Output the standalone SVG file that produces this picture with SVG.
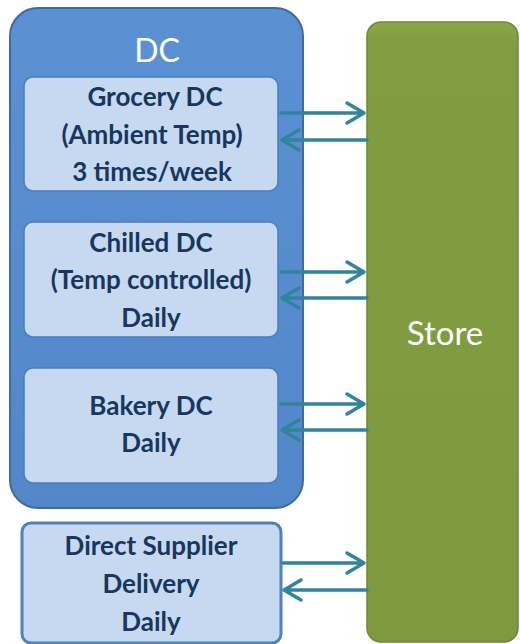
<svg xmlns="http://www.w3.org/2000/svg" width="520" height="644" viewBox="0 0 520 644">
<defs>
<style>
.t{font-family:Lato,"Open Sans","Liberation Sans",sans-serif;font-weight:bold;font-size:26px;fill:#17375E;text-anchor:middle}
.w{font-family:Lato,"Open Sans","Liberation Sans",sans-serif;fill:#FFFFFF;text-anchor:middle}
.inner{fill:#C6D9F1;stroke:#4B7EBF;stroke-width:1.5}
.arr{fill:none;stroke:#31849B;stroke-width:3.5;stroke-linecap:round;stroke-linejoin:round}
</style>
<linearGradient id="gb" x1="0" y1="0" x2="0" y2="1">
<stop offset="0" stop-color="#5B90D2"/><stop offset="1" stop-color="#5287CA"/>
</linearGradient>
<linearGradient id="gg" x1="0" y1="0" x2="0" y2="1">
<stop offset="0" stop-color="#8AA748"/><stop offset="0.03" stop-color="#809D41"/><stop offset="1" stop-color="#7D9A3E"/>
</linearGradient>
</defs>
<g id="dc">
<rect x="10" y="8" width="293" height="500" rx="28" fill="url(#gb)" stroke="#3F6B9E" stroke-width="2"/>
<text class="w" x="157" y="62" font-size="32">DC</text>
</g>
<g id="grocery">
<rect class="inner" x="24" y="77" width="254" height="114" rx="9"/>
<text class="t" x="155" y="106">Grocery DC</text>
<text class="t" x="152" y="144">(Ambient Temp)</text>
<text class="t" x="152" y="181">3 times/week</text>
</g>
<g id="chilled">
<rect class="inner" x="24" y="222" width="254" height="115" rx="9"/>
<text class="t" x="151" y="252">Chilled DC</text>
<text class="t" x="151" y="289">(Temp controlled)</text>
<text class="t" x="151" y="327">Daily</text>
</g>
<g id="bakery">
<rect class="inner" x="24" y="368" width="254" height="115" rx="9"/>
<text class="t" x="151" y="415">Bakery DC</text>
<text class="t" x="151" y="452">Daily</text>
</g>
<g id="direct">
<rect x="22" y="523" width="259" height="120" rx="9" fill="#C6D9F1" stroke="#4F81BD" stroke-width="3"/>
<text class="t" x="151" y="555">Direct Supplier</text>
<text class="t" x="151" y="593">Delivery</text>
<text class="t" x="151" y="631">Daily</text>
</g>
<g id="store">
<rect x="367" y="22" width="151" height="620" rx="14" fill="url(#gg)" stroke="#6E8A33" stroke-width="1.5"/>
<text class="w" x="445" y="345" font-size="33">Store</text>
</g>
<g id="connectors">
<path class="arr" d="M281 113 H364 M347 103 L364 113 L347 123"/>
<path class="arr" d="M367 140 H282 M299 130 L282 140 L299 150"/>
<path class="arr" d="M281 272 H364 M347 262 L364 272 L347 282"/>
<path class="arr" d="M367 298 H282 M299 288 L282 298 L299 308"/>
<path class="arr" d="M281 404 H364 M347 394 L364 404 L347 414"/>
<path class="arr" d="M367 430 H282 M299 420 L282 430 L299 440"/>
<path class="arr" d="M283 563 H364 M347 553 L364 563 L347 573"/>
<path class="arr" d="M367 590 H284 M301 580 L284 590 L301 600"/>
</g>
</svg>
